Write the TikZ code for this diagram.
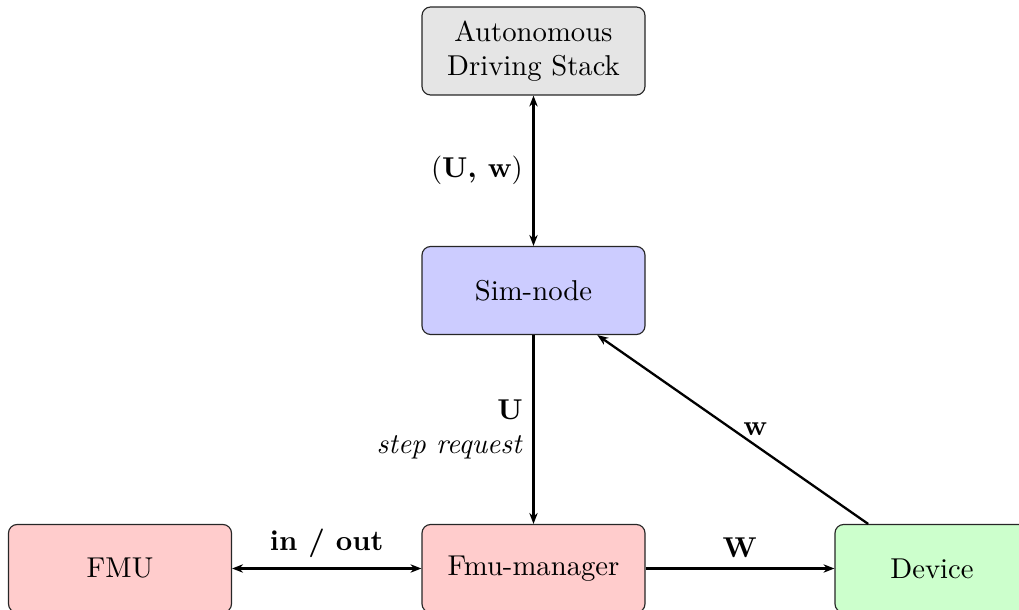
\documentclass[tikz,border=0pt]{standalone}
\usetikzlibrary{arrows.meta}
\begin{document}
\begin{tikzpicture}[x=0.34843pt,y=-0.34843pt,
  box/.style={draw=black!85, thin, rounded corners=3pt,
    minimum width=77.7pt, minimum height=30.66pt,
    align=center, inner sep=0pt},
  link/.style={thick, -{Stealth[length=3.8pt,width=2.9pt,inset=1.2pt]}},
  dlink/.style={thick, {Stealth[length=3.8pt,width=2.9pt,inset=1.2pt]}-{Stealth[length=3.8pt,width=2.9pt,inset=1.2pt]}}]
  \clip (0,0) rectangle (1019,610);

  % components
  \node[box, fill=black!10] (ads) at (533.5,51)    {Autonomous\\Driving Stack};
  \node[box, fill=blue!20]  (sim) at (533.5,290.5) {Sim-node};
  \node[box, fill=red!20]   (fmu) at (120,568.5)   {FMU};
  \node[box, fill=red!20]   (mgr) at (533.5,568.5) {Fmu-manager};
  \node[box, fill=green!20, minimum width=67.6pt] (dev) at (932,568.5) {Device};

  % data flow
  \draw[dlink] (ads) -- node[left] {(\textbf{U, w})} (sim);
  \draw[link] (sim) -- node[left, align=right] {\textbf{U}\\\textit{step request}} (mgr);
  \draw[dlink] (fmu) -- node[above] {\textbf{in / out}} (mgr);
  \draw[link] (mgr) -- node[above] {$\mathbf{W}$} (dev);
  \draw[link] (dev) -- node[right] {\textbf{w}} (sim);
\end{tikzpicture}
\end{document}
